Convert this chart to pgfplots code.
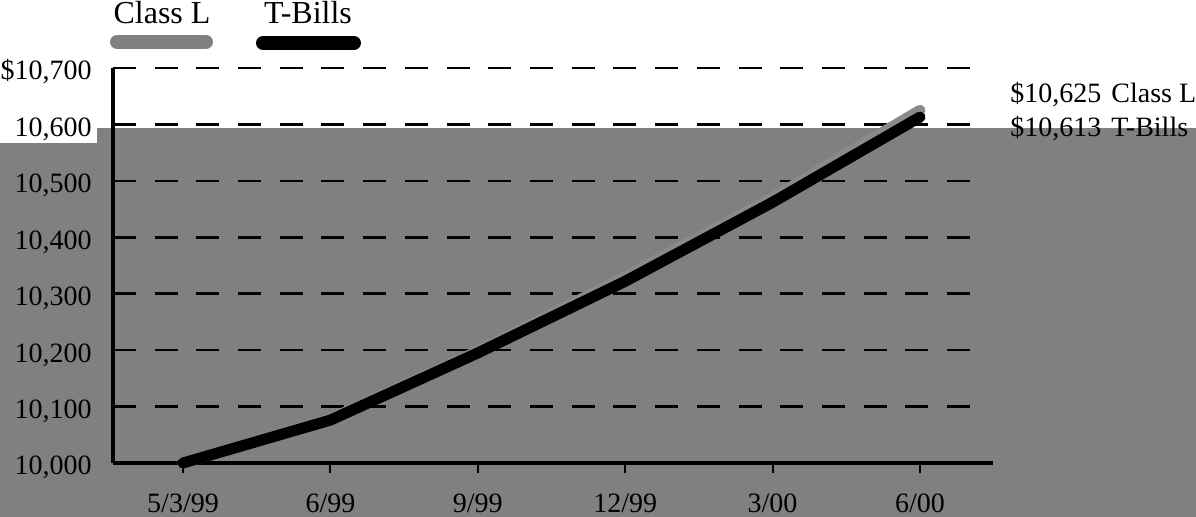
\documentclass[border=0pt]{standalone}
\usepackage{fontspec}
\setmainfont{Liberation Serif}
\usepackage{pgfplots}
\pgfplotsset{compat=1.18}
\definecolor{bg}{RGB}{128,128,128}
\definecolor{cl}{RGB}{138,138,138}
\begin{document}
\begin{tikzpicture}
\fill[bg] (-8pt,-27pt) rectangle (541.5pt,167.5pt);
\fill[bg] (-56.5pt,-27pt) rectangle (-8pt,160pt);
\begin{axis}[
  at={(0,0)}, anchor=south west,
  scale only axis, width=429.5pt, height=197.5pt,
  xmin=-0.475, xmax=5.353, ymin=10000, ymax=10700,
  axis x line=bottom, axis y line=left,
  x axis line style={-, line width=2pt, shorten >=-10.5pt},
  y axis line style={-, line width=1.6pt},
  xtick={0,...,5}, xticklabels={5/3/99,6/99,9/99,12/99,3/00,6/00},
  ytick={10000,10100,...,10700},
  scaled y ticks=false,
  yticklabels={{10,000},{10,100},{10,200},{10,300},{10,400},{10,500},{10,600},{\$10,700}},
  ymajorgrids, grid style={line width=1.3pt, black, dash pattern=on 11.5pt off 9.35pt},
  tick align=outside, major tick length=5pt,
  x tick style={black, line width=1pt},
  y tick style={draw=none},
  ticklabel style={font=\fontsize{14}{16}\selectfont},
  xticklabel style={anchor=base, inner sep=0pt, yshift=-20pt},
  yticklabel style={anchor=base east, inner sep=0pt, xshift=-5.5pt, yshift=-6pt},
  clip=false,
]
\addplot[cl, line width=5.5pt, line cap=round, line join=round] coordinates {
(0,10000) (1,10078) (2,10198) (3,10330) (4,10470) (5,10625)};
\addplot[black, line width=5.5pt, line cap=round, line join=round] coordinates {
(0,10000) (1,10076) (2,10195) (3,10322) (4,10462) (5,10613)};
\end{axis}
% legend
\draw[bg, line width=7pt, line cap=round] (2pt,210.5pt) -- (46.5pt,210.5pt);
\draw[black, line width=7pt, line cap=round] (75pt,210pt) -- (120.5pt,210pt);
\node[anchor=base, inner sep=0pt, font=\fontsize{16}{18}\selectfont] at (24.5pt,219.5pt) {Class L};
\node[anchor=base, inner sep=0pt, font=\fontsize{16}{18}\selectfont] at (97.5pt,219.5pt) {T-Bills};
% end labels
\node[anchor=base west, inner sep=0pt, font=\fontsize{14}{16}\selectfont] at (448.5pt,180pt) {\$10,625\hspace{5pt}Class L};
\node[anchor=base west, inner sep=0pt, font=\fontsize{14}{16}\selectfont] at (448.5pt,163pt) {\$10,613\hspace{5pt}T-Bills};
\pgfresetboundingbox
\path[use as bounding box] (-56.5pt,-27pt) rectangle (541.5pt,231.5pt);
\end{tikzpicture}
\end{document}
